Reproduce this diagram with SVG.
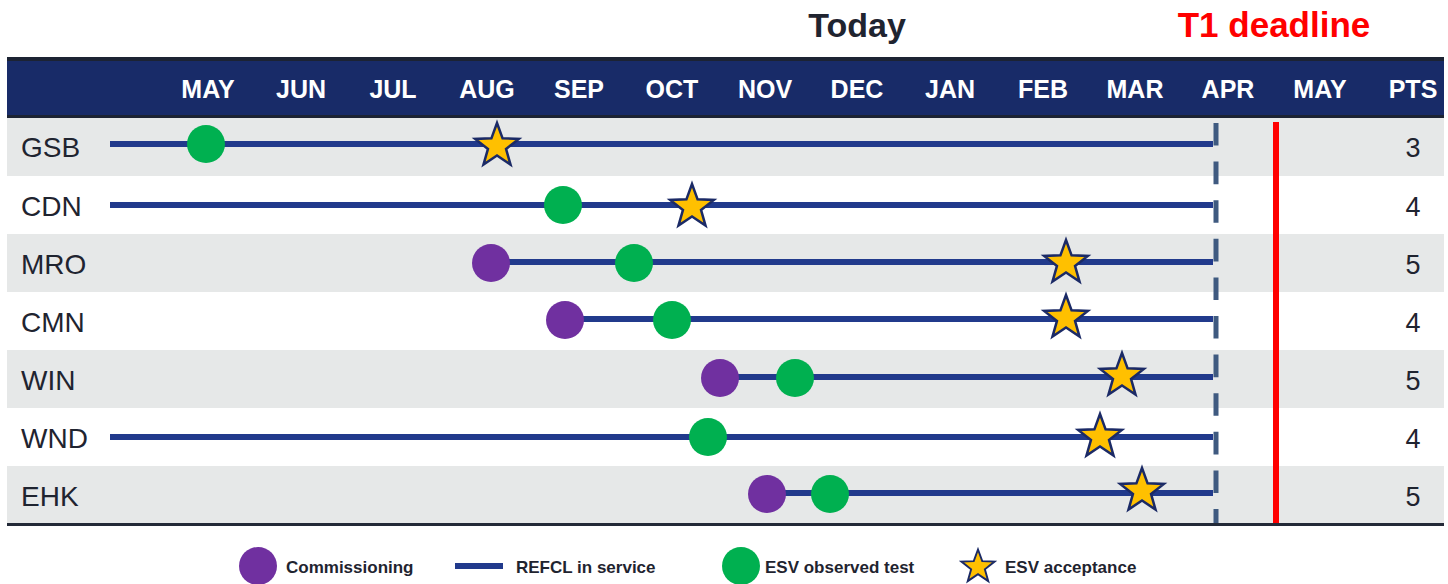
<svg xmlns="http://www.w3.org/2000/svg" xmlns:xlink="http://www.w3.org/1999/xlink" width="1448" height="584" viewBox="0 0 1448 584">
<style>
.hdr{font-family:"Liberation Sans",Arial,sans-serif;font-weight:bold;font-size:25px;fill:#ffffff;text-anchor:middle}
.lbl{font-family:"Liberation Sans",Arial,sans-serif;font-size:28px;fill:#1f2430}
.pts{font-family:"Liberation Sans",Arial,sans-serif;font-size:27px;fill:#1f2430;text-anchor:middle}
.leg{font-family:"Liberation Sans",Arial,sans-serif;font-weight:bold;font-size:17px;fill:#1f2430}
.gray{fill:#e6e8e8}
.white{fill:#ffffff}
.bar{stroke:#213a8c;stroke-width:6;fill:none}
.comm{fill:#7030a0}
.esvt{fill:#00b050}
.star{fill:#ffc000;stroke:#1b2a66;stroke-width:2.5;stroke-linejoin:miter}
</style>
<defs>
<path id="star" d="M0,-23 L5.58,-7.69 L21.87,-7.11 L9.03,2.94 L13.52,18.61 L0,9.5 L-13.52,18.61 L-9.03,2.94 L-21.87,-7.11 L-5.58,-7.69 Z"/>
</defs>
<rect width="1448" height="584" fill="#ffffff"/>
<g id="titles">
<text x="857" y="37" font-family="Liberation Sans,Arial,sans-serif" font-weight="bold" font-size="34" fill="#1f2430" text-anchor="middle">Today</text>
<text x="1274" y="37" font-family="Liberation Sans,Arial,sans-serif" font-weight="bold" font-size="35" fill="#ff0000" text-anchor="middle">T1 deadline</text>
</g>
<g id="header">
<rect x="7" y="57" width="1437" height="61" fill="#1c2333"/>
<rect x="7" y="61" width="1437" height="54" fill="#182b68"/>
<text class="hdr" x="208" y="98">MAY</text>
<text class="hdr" x="301" y="98">JUN</text>
<text class="hdr" x="393" y="98">JUL</text>
<text class="hdr" x="487" y="98">AUG</text>
<text class="hdr" x="579" y="98">SEP</text>
<text class="hdr" x="672" y="98">OCT</text>
<text class="hdr" x="765" y="98">NOV</text>
<text class="hdr" x="857" y="98">DEC</text>
<text class="hdr" x="950" y="98">JAN</text>
<text class="hdr" x="1043" y="98">FEB</text>
<text class="hdr" x="1135" y="98">MAR</text>
<text class="hdr" x="1228" y="98">APR</text>
<text class="hdr" x="1320" y="98">MAY</text>
<text class="hdr" x="1413" y="98">PTS</text>
</g>
<g id="rows-bg">
<rect class="gray" x="7" y="118" width="1437" height="58"/>
<rect class="white" x="7" y="176" width="1437" height="58"/>
<rect class="gray" x="7" y="234" width="1437" height="58"/>
<rect class="white" x="7" y="292" width="1437" height="58"/>
<rect class="gray" x="7" y="350" width="1437" height="58"/>
<rect class="white" x="7" y="408" width="1437" height="58"/>
<rect class="gray" x="7" y="466" width="1437" height="58"/>
</g>
<g id="connectors">
<line class="bar" x1="110" y1="144" x2="1213" y2="144"/>
<line class="bar" x1="110" y1="205" x2="1213" y2="205"/>
<line class="bar" x1="491" y1="262" x2="1213" y2="262"/>
<line class="bar" x1="565" y1="319" x2="1213" y2="319"/>
<line class="bar" x1="720" y1="377" x2="1213" y2="377"/>
<line class="bar" x1="110" y1="437" x2="1213" y2="437"/>
<line class="bar" x1="767" y1="493" x2="1213" y2="493"/>
</g>
<g id="today-line">
<line x1="1216" y1="123" x2="1216" y2="525" stroke="#3f5a80" stroke-width="5" stroke-dasharray="22.6 16"/>
</g>
<g id="deadline-line">
<line x1="1276" y1="122" x2="1276" y2="525" stroke="#ff0000" stroke-width="6"/>
</g>
<g id="row-GSB">
<text class="lbl" x="21" y="157">GSB</text>
<circle class="esvt" cx="206" cy="144" r="19"/>
<use xlink:href="#star" class="star" x="497" y="146"/>
<text class="pts" x="1413" y="157">3</text>
</g>
<g id="row-CDN">
<text class="lbl" x="21" y="216">CDN</text>
<circle class="esvt" cx="563" cy="205" r="19"/>
<use xlink:href="#star" class="star" x="692" y="207"/>
<text class="pts" x="1413" y="216">4</text>
</g>
<g id="row-MRO">
<text class="lbl" x="21" y="274">MRO</text>
<circle class="comm" cx="491" cy="263" r="19"/>
<circle class="esvt" cx="634" cy="263" r="19"/>
<use xlink:href="#star" class="star" x="1066" y="263"/>
<text class="pts" x="1413" y="274">5</text>
</g>
<g id="row-CMN">
<text class="lbl" x="21" y="332">CMN</text>
<circle class="comm" cx="565" cy="320" r="19"/>
<circle class="esvt" cx="672" cy="320" r="19"/>
<use xlink:href="#star" class="star" x="1066" y="318"/>
<text class="pts" x="1413" y="332">4</text>
</g>
<g id="row-WIN">
<text class="lbl" x="21" y="390">WIN</text>
<circle class="comm" cx="720" cy="378" r="19"/>
<circle class="esvt" cx="795" cy="378" r="19"/>
<use xlink:href="#star" class="star" x="1122" y="376"/>
<text class="pts" x="1413" y="390">5</text>
</g>
<g id="row-WND">
<text class="lbl" x="21" y="448">WND</text>
<circle class="esvt" cx="708" cy="437" r="19"/>
<use xlink:href="#star" class="star" x="1100" y="437"/>
<text class="pts" x="1413" y="448">4</text>
</g>
<g id="row-EHK">
<text class="lbl" x="21" y="506">EHK</text>
<circle class="comm" cx="767" cy="494" r="19"/>
<circle class="esvt" cx="830" cy="494" r="19"/>
<use xlink:href="#star" class="star" x="1142" y="491"/>
<text class="pts" x="1413" y="506">5</text>
</g>
<g id="bottom-rule">
<rect x="7" y="523" width="1437" height="3" fill="#232a38"/>
</g>
<g id="legend">
<circle class="comm" cx="258" cy="566" r="19"/>
<text class="leg" x="286" y="573">Commissioning</text>
<line class="bar" x1="455" y1="566" x2="503" y2="566"/>
<text class="leg" x="516" y="573">REFCL in service</text>
<circle class="esvt" cx="741" cy="566" r="19"/>
<text class="leg" x="765" y="573">ESV observed test</text>
<use xlink:href="#star" class="star" transform="translate(978,567) scale(0.76)"/>
<text class="leg" x="1005" y="573">ESV acceptance</text>
</g>
</svg>
